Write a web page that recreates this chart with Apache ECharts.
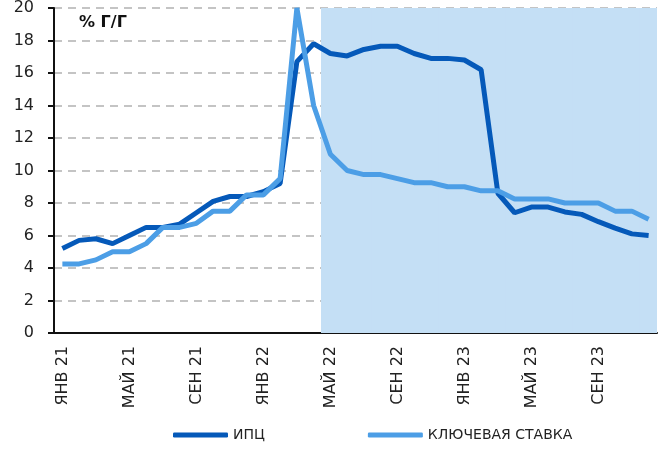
<!DOCTYPE html>
<html>
<head>
<meta charset="utf-8">
<script src="https://cdn.jsdelivr.net/npm/echarts@6/dist/echarts.min.js"></script>
<style>
  html, body { margin: 0; padding: 0; background: #fff; }
  #main { width: 665px; height: 450px; }
</style>
</head>
<body>
<div id="main"></div>
<script>
// месяцы янв 21 - дек 23
var months = ['ЯНВ', 'ФЕВ', 'МАР', 'АПР', 'МАЙ', 'ИЮН', 'ИЮЛ', 'АВГ', 'СЕН', 'ОКТ', 'НОЯ', 'ДЕК'];
var years = ['21', '22', '23'];
var categories = [];
years.forEach(function (y) {
    months.forEach(function (m) { categories.push(m + ' ' + y); });
});

// инфляция, % г/г
var cpi = [5.2, 5.7, 5.8, 5.5, 6.0, 6.5, 6.5, 6.7, 7.4, 8.1, 8.4, 8.4,
           8.7, 9.2, 16.7, 17.8, 17.2, 17.05, 17.45, 17.65, 17.65, 17.2, 16.9, 16.9,
           16.8, 16.2, 8.6, 7.4, 7.75, 7.75, 7.45, 7.3, 6.85, 6.45, 6.1, 6.0];
// ключевая ставка
var keyRate = [4.25, 4.25, 4.5, 5.0, 5.0, 5.5, 6.5, 6.5, 6.75, 7.5, 7.5, 8.5,
               8.5, 9.5, 20, 14, 11, 10, 9.75, 9.75, 9.5, 9.25, 9.25, 9.0,
               9.0, 8.75, 8.75, 8.25, 8.25, 8.25, 8.0, 8.0, 8.0, 7.5, 7.5, 7.0];

// прогнозный период (заливка)
var forecastFrom = 'МАЙ 22';
var yMax = 20;

var fromIdx = categories.indexOf(forecastFrom);
var shade = categories.map(function (c, i) { return i >= fromIdx ? yMax : null; });

var font = '"DejaVu Sans", sans-serif';
var shadeColor = '#c4dff5';

var chart = echarts.init(document.getElementById('main'));
chart.setOption({
    animation: false,
    textStyle: { fontFamily: font },
    title: {
        text: '% Г/Г',
        left: 74,
        top: 10,
        textStyle: { fontSize: 16, fontWeight: 'bold', color: '#111', fontFamily: font }
    },
    grid: { left: 54, right: 8, top: 8, bottom: 117 },
    legend: {
        bottom: 3,
        left: 168,
        itemGap: 103,
        itemWidth: 55,
        itemHeight: 5,
        icon: 'roundRect',
        data: ['ИПЦ', 'КЛЮЧЕВАЯ СТАВКА'],
        textStyle: { fontSize: 14, color: '#222', fontFamily: font }
    },
    xAxis: {
        type: 'category',
        data: categories,
        boundaryGap: true,
        axisLine: { lineStyle: { color: '#111', width: 2 } },
        axisTick: { interval: 3, length: 5, lineStyle: { color: '#111', width: 2 } },
        axisLabel: { interval: 3, rotate: 90, margin: 13, fontSize: 16, color: '#222' },
        splitLine: { show: false }
    },
    yAxis: {
        type: 'value',
        min: 0,
        max: yMax,
        interval: 2,
        axisLine: { show: true, lineStyle: { color: '#111', width: 2 } },
        axisTick: { show: true, length: 6, lineStyle: { color: '#111', width: 2 } },
        axisLabel: { fontSize: 16, color: '#222', margin: 20 },
        splitLine: { lineStyle: { color: '#c4c4c4', type: [8, 6], width: 2 } }
    },
    series: [
        {
            name: 'прогноз',
            type: 'bar',
            data: shade,
            barWidth: '112%',
            silent: true,
            itemStyle: { color: shadeColor },
            z: 1
        },
        {
            name: 'ИПЦ',
            type: 'line',
            data: cpi,
            symbol: 'none',
            lineStyle: { color: '#0559b9', width: 5 },
            itemStyle: { color: '#0559b9' },
            z: 3
        },
        {
            name: 'КЛЮЧЕВАЯ СТАВКА',
            type: 'line',
            data: keyRate,
            symbol: 'none',
            lineStyle: { color: '#4c9ee6', width: 5 },
            itemStyle: { color: '#4c9ee6' },
            z: 4
        }
    ]
});
</script>
</body>
</html>
